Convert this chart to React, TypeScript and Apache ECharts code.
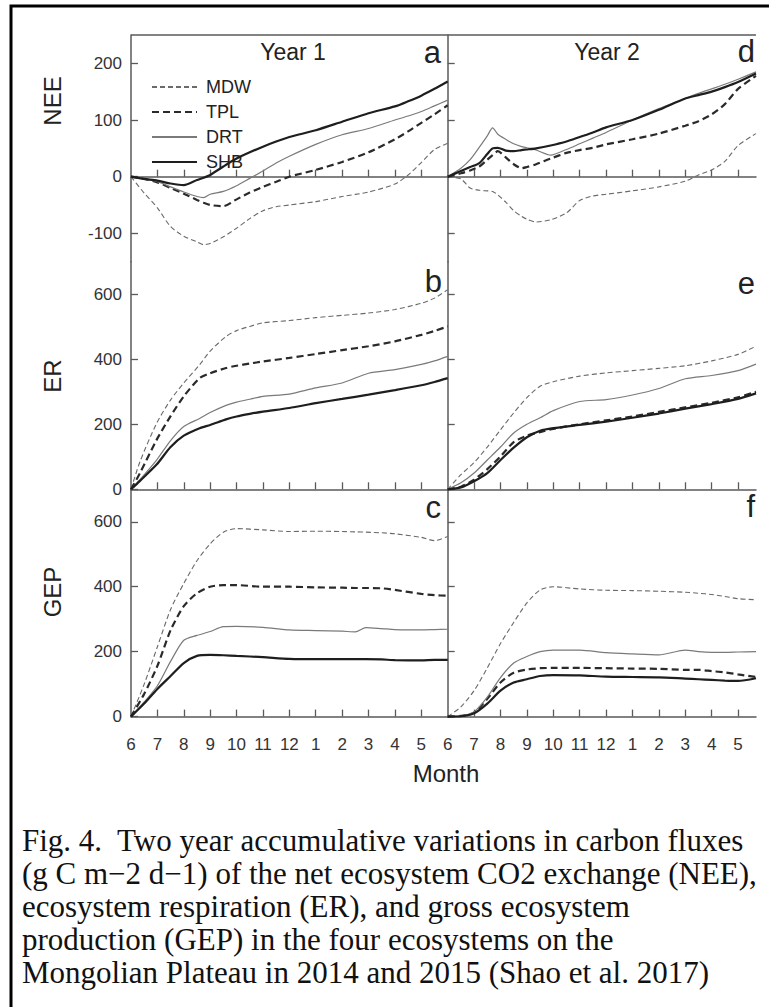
import React, { useEffect, useRef } from 'react';
import * as echarts from 'echarts';

const monthLabels = ['6', '7', '8', '9', '10', '11', '12', '1', '2', '3', '4', '5'];
const seriesNames = ['MDW', 'TPL', 'DRT', 'SHB'];
const neeTicks = [-100, 0, 100, 200];
const flowTicks = [0, 200, 400, 600];

// Panel a: NEE, year 1 (months since June 1)
const monthsA = [0, 0.5, 1, 1.5, 2, 2.5, 2.75, 3, 3.5, 4, 4.5, 5, 5.5, 6, 7, 8, 9, 10, 10.5, 11, 11.5, 12];
const mdwA = [0, -29, -55, -88, -105, -115, -120, -118, -106, -91, -74, -60, -53, -50, -44, -35, -27, -13, 3, 25, 48, 59];
const tplA = [0, -4, -10, -20, -30, -41, -46, -50, -52, -40, -28, -18, -9, 0, 12, 26, 43, 66, 80, 95, 110, 126];
const drtA = [0, -4, -9, -18, -27, -35, -37, -31, -26, -16, -3, 10, 24, 36, 57, 74, 85, 100, 107, 115, 125, 135];
const shbA = [0, -4, -7, -12, -15, -6, -2, 3, 18, 32, 43, 53, 62, 70, 82, 97, 112, 124, 133, 143, 155, 168];

// Panel b: ER, year 1
const monthsB = [0, 0.34, 0.97, 1.5, 2, 2.6, 3, 3.6, 4, 4.5, 5, 6, 7, 8, 9, 10, 11, 11.5, 12];
const mdwB = [0, 85, 203, 275, 327, 383, 425, 470, 488, 501, 512, 519, 528, 535, 542, 553, 572, 588, 614];
const tplB = [0, 50, 152, 225, 286, 342, 357, 373, 380, 387, 393, 404, 416, 428, 440, 455, 475, 487, 501];
const drtB = [0, 30, 90, 150, 193, 218, 236, 258, 268, 277, 286, 293, 312, 327, 357, 368, 384, 395, 409];
const shbB = [0, 26, 76, 130, 165, 188, 198, 215, 224, 232, 239, 250, 265, 278, 291, 305, 320, 330, 342];

// Panel c: GEP, year 1
const monthsC = [0, 0.5, 1, 1.5, 2, 2.5, 3, 3.5, 4, 5, 6, 7, 8, 8.5, 8.9, 9.5, 10, 11, 11.5, 12];
const mdwC = [0, 100, 215, 330, 410, 480, 532, 568, 579, 575, 570, 571, 570, 569, 568, 566, 563, 552, 542, 555];
const tplC = [0, 70, 156, 266, 340, 380, 400, 405, 405, 400, 400, 398, 397, 396, 396, 395, 390, 378, 374, 372];
const drtC = [0, 45, 95, 170, 235, 250, 262, 277, 278, 275, 267, 265, 263, 261, 274, 271, 268, 267, 268, 269];
const shbC = [0, 40, 85, 125, 165, 187, 190, 189, 187, 183, 178, 177, 177, 177, 177, 176, 174, 173, 175, 175];

// Panel d: NEE, year 2
const monthsD = [0, 0.5, 0.85, 1.2, 1.5, 1.7, 1.9, 2.2, 2.5, 2.8, 3, 3.35, 3.9, 4.5, 5, 5.5, 6, 7, 8, 9, 9.5, 10, 10.5, 11, 11.68];
const mdwD = [0, -4, -20, -24, -25, -26, -32, -45, -60, -70, -75, -80, -76, -64, -42, -34, -31, -25, -18, -8, 3, 12, 27, 55, 76];
const tplD = [0, 6, 11, 18, 30, 38, 45, 34, 22, 15, 17, 22, 32, 42, 47, 51, 57, 66, 76, 90, 98, 110, 128, 155, 178];
const drtD = [0, 15, 30, 52, 72, 86, 75, 66, 58, 53, 51, 47, 38, 48, 58, 68, 78, 100, 120, 138, 147, 155, 163, 172, 185];
const shbD = [0, 10, 17, 24, 40, 50, 51, 46, 45, 47, 48, 50, 55, 62, 70, 78, 87, 100, 118, 138, 144, 150, 158, 167, 182];

// Panel e: ER, year 2
const monthsE = [0, 0.5, 1, 1.5, 2, 2.5, 3, 3.5, 4, 5, 6, 7, 8, 9, 10, 11, 11.68];
const mdwE = [0, 45, 82, 130, 183, 235, 282, 317, 331, 348, 358, 365, 372, 380, 395, 415, 440];
const tplE = [0, 8, 30, 62, 101, 145, 165, 176, 186, 200, 212, 224, 238, 252, 266, 283, 300];
const drtE = [0, 20, 50, 90, 130, 173, 200, 220, 242, 270, 276, 290, 310, 340, 350, 365, 385];
const shbE = [0, 6, 25, 50, 90, 128, 160, 180, 188, 198, 208, 220, 233, 248, 262, 278, 295];

// Panel f: GEP, year 2
const monthsF = [0, 0.5, 1, 1.5, 2, 2.5, 3, 3.5, 4, 5, 6, 7, 8, 9, 9.5, 10, 10.5, 11, 11.68];
const mdwF = [0, 30, 80, 150, 225, 290, 350, 390, 400, 393, 389, 388, 386, 383, 380, 376, 370, 363, 360];
const tplF = [0, 2, 12, 55, 105, 135, 145, 149, 150, 150, 149, 148, 147, 144, 144, 140, 136, 130, 122];
const drtF = [0, 2, 15, 60, 120, 165, 185, 200, 205, 205, 197, 193, 190, 205, 200, 198, 198, 199, 200];
const shbF = [0, 1, 10, 40, 80, 105, 115, 125, 128, 127, 123, 122, 121, 117, 115, 113, 111, 110, 118];

const captionLines = [
  'Fig. 4.  Two year accumulative variations in carbon fluxes',
  '(g C m\u22122 d\u22121) of the net ecosystem CO2 exchange (NEE),',
  'ecosystem respiration (ER), and gross ecosystem',
  'production (GEP) in the four ecosystems on the',
  'Mongolian Plateau in 2014 and 2015 (Shao et al. 2017)',
];

const SANS = '"Liberation Sans", Arial, Helvetica, sans-serif';
const SERIF = '"Liberation Serif", "DejaVu Serif", serif';

export default function App() {
  const ref = useRef<HTMLDivElement>(null);
  useEffect(() => {
    const chart = echarts.init(ref.current!, null, { renderer: 'svg' });

    const colLeft = [131, 447.7];
    const colWidth = [316.7, 308.3];
    const colMax = [12, 11.68];
    const rowTop = [35, 261.7, 489.3];
    const rowHeight = [226.7, 227.6, 227.3];
    const rowMin = [-150, 0, 0];
    const rowMax = [250, 700, 700];
    const rowTicks = [neeTicks, flowTicks, flowTicks];

    const panels = [
      { months: monthsA, vals: [mdwA, tplA, drtA, shbA] },
      { months: monthsB, vals: [mdwB, tplB, drtB, shbB] },
      { months: monthsC, vals: [mdwC, tplC, drtC, shbC] },
      { months: monthsD, vals: [mdwD, tplD, drtD, shbD] },
      { months: monthsE, vals: [mdwE, tplE, drtE, shbE] },
      { months: monthsF, vals: [mdwF, tplF, drtF, shbF] },
    ];

    const styles = [
      { color: '#6a6a6a', width: 1.1, type: [5, 3] },
      { color: '#2a2a2a', width: 2.2, type: [7, 4] },
      { color: '#7a7a7a', width: 1.2, type: 'solid' },
      { color: '#1e1e1e', width: 2.2, type: 'solid' },
    ];

    const axisColor = '#5a5a5a';
    const grids: any[] = [];
    const xAxes: any[] = [];
    const yAxes: any[] = [];
    const series: any[] = [];
    const tickMonths = [1, 2, 3, 4, 5, 6, 7, 8, 9, 10, 11];
    const labelMonths = [0, 1, 2, 3, 4, 5, 6, 7, 8, 9, 10, 11];

    let idx = 0;
    for (let c = 0; c < 2; c++) {
      for (let r = 0; r < 3; r++) {
        grids.push({ left: colLeft[c], top: rowTop[r], width: colWidth[c], height: rowHeight[r] });
        xAxes.push({
          type: 'value', gridIndex: idx, min: 0, max: colMax[c],
          axisLine: { show: true, lineStyle: { color: axisColor, width: 1.5 } },
          axisTick: { show: true, inside: true, length: 7, customValues: tickMonths, lineStyle: { color: axisColor, width: 1.3 } },
          axisLabel: {
            show: r === 2, customValues: labelMonths, margin: 19,
            formatter: (v: number) => monthLabels[Math.round(v)] ?? '',
            fontSize: 17, color: '#333', fontFamily: SANS,
          },
          splitLine: { show: false },
        });
        yAxes.push({
          type: 'value', gridIndex: idx, min: rowMin[r], max: rowMax[r],
          axisLine: { show: true, lineStyle: { color: axisColor, width: 1.5 } },
          axisTick: { show: true, inside: true, length: 7, customValues: rowTicks[r], lineStyle: { color: axisColor, width: 1.3 } },
          axisLabel: { show: c === 0, customValues: rowTicks[r], margin: 9, fontSize: 17, color: '#333', fontFamily: SANS },
          splitLine: { show: false },
        });
        const p = panels[c * 3 + r];
        for (let s = 0; s < 4; s++) {
          series.push({
            name: seriesNames[s], type: 'line', xAxisIndex: idx, yAxisIndex: idx,
            data: p.months.map((m, k) => [m, p.vals[s][k]]),
            showSymbol: false, symbol: 'none', smooth: 0.25,
            lineStyle: styles[s], itemStyle: { color: styles[s].color },
            z: 2 + s,
          });
        }
        idx++;
      }
    }

    const txt = (text: string, x: number, y: number, size: number, align: string, extra: any = {}) => ({
      type: 'text', x, y, ...extra,
      style: { text, fontSize: size, fontFamily: SANS, fill: '#222', align, verticalAlign: 'middle' },
    });

    const graphic: any[] = [
      { type: 'rect', shape: { x: 11, y: 6, width: 900, height: 1100 }, style: { fill: 'none', stroke: '#000', lineWidth: 3 } },
      { type: 'line', shape: { x1: 131, y1: 35, x2: 756, y2: 35 }, style: { stroke: axisColor, lineWidth: 1.5 } },
      txt('Year 1', 293, 52, 23, 'center'),
      txt('Year 2', 607, 52, 23, 'center'),
      txt('a', 441, 52, 31, 'right'),
      txt('d', 755, 51, 31, 'right'),
      txt('b', 442, 281, 31, 'right'),
      txt('e', 755, 283, 31, 'right'),
      txt('c', 441, 507, 31, 'right'),
      txt('f', 755, 506, 31, 'right'),
      txt('NEE', 52, 101, 24, 'center', { rotation: Math.PI / 2 }),
      txt('ER', 52, 376, 24, 'center', { rotation: Math.PI / 2 }),
      txt('GEP', 52, 592, 24, 'center', { rotation: Math.PI / 2 }),
      txt('Month', 446, 773, 24, 'center'),
    ];
    captionLines.forEach((line, i) => {
      graphic.push({
        type: 'text', x: 22, y: 840 + i * 33.2,
        style: { text: line, fontSize: 31, fontFamily: SERIF, fill: '#111', align: 'left', verticalAlign: 'middle' },
      });
    });

    chart.setOption({
      animation: false,
      backgroundColor: '#fff',
      grid: grids,
      xAxis: xAxes,
      yAxis: yAxes,
      legend: {
        data: seriesNames, orient: 'vertical', left: 146, top: 73,
        itemWidth: 45, itemHeight: 14, itemGap: 7, selectedMode: false,
        itemStyle: { color: 'rgba(0,0,0,0)', borderColor: 'rgba(0,0,0,0)', borderWidth: 0 },
        textStyle: { fontSize: 18, color: '#222', fontFamily: SANS, padding: [0, 0, 0, 4] },
      },
      series,
      graphic,
    });
    return () => chart.dispose();
  }, []);
  return <div ref={ref} style={{ position: 'absolute', left: 0, top: 0, width: 769, height: 1007, background: '#fff' }} />;
}
